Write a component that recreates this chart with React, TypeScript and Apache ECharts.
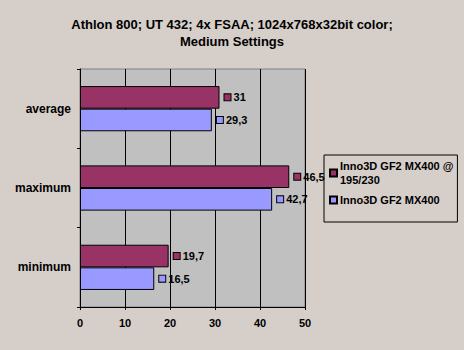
import React, { useEffect, useRef } from "react";
import * as echarts from "echarts";

const titleLines = ["Athlon 800; UT 432; 4x FSAA; 1024x768x32bit color;", "Medium Settings"];
const categories = ["minimum", "maximum", "average"];
const seriesNames = ["Inno3D GF2 MX400 @ 195/230", "Inno3D GF2 MX400"];
const oceValues = [19.7, 46.5, 31];
const stockValues = [16.5, 42.7, 29.3];
const xTicks = { min: 0, max: 50, interval: 10 };
const colors = ["#993366", "#9999FF"];

const FONT = "'Liberation Sans', Arial, sans-serif";

export default function App() {
  const ref = useRef<HTMLDivElement>(null);
  useEffect(() => {
    if (!ref.current) return;
    const chart = echarts.init(ref.current, null, { renderer: "svg" });
    const mkLabel = (color: string) => ({
      show: true,
      position: "right",
      distance: 5,
      formatter: (p: any) => `{s|}{v| ${String(p.value).replace(".", ",")}}`,
      rich: {
        s: { width: 6, height: 6, backgroundColor: color, borderColor: "#000", borderWidth: 1 },
        v: { fontFamily: FONT, fontWeight: "bold", fontSize: 11, color: "#000" },
      },
    });
    const vals = [oceValues, stockValues];
    chart.setOption({
      animation: false,
      backgroundColor: "#D6CEC9",
      textStyle: { fontFamily: FONT },
      title: {
        text: titleLines.join("\n"),
        left: "center",
        top: 11,
        textStyle: { fontFamily: FONT, fontSize: 13, fontWeight: "bold", color: "#000", lineHeight: 17 },
      },
      legend: {
        orient: "vertical",
        left: 324,
        top: 155,
        data: seriesNames,
        formatter: (n: string) => (n === seriesNames[0] ? "Inno3D GF2 MX400 @\n195/230" : n),
        itemWidth: 7,
        itemHeight: 7,
        itemGap: 6,
        padding: [4, 4, 15, 5],
        borderColor: "#000",
        borderWidth: 1,
        icon: "rect",
        textStyle: { fontFamily: FONT, fontSize: 11, fontWeight: "bold", color: "#000", lineHeight: 14, padding: [0, 0, 0, -2] },
      },
      grid: {
        left: 80,
        top: 69,
        width: 225,
        height: 238,
        show: true,
        backgroundColor: "#C0C0C0",
        borderColor: "#808080",
        borderWidth: 1,
      },
      xAxis: {
        type: "value",
        min: xTicks.min,
        max: xTicks.max,
        interval: xTicks.interval,
        axisLine: { show: true, lineStyle: { color: "#000", width: 1 } },
        axisTick: { show: true, length: 3, lineStyle: { color: "#000" } },
        splitLine: { show: true, lineStyle: { color: "#000", width: 1 } },
        axisLabel: { fontFamily: FONT, fontSize: 11, fontWeight: "bold", color: "#000", margin: 10 },
      },
      yAxis: {
        type: "category",
        data: categories,
        axisLine: { show: true, lineStyle: { color: "#000", width: 1 } },
        axisTick: { show: true, length: 3, lineStyle: { color: "#000" } },
        axisLabel: { fontFamily: FONT, fontSize: 12, fontWeight: "bold", color: "#000", margin: 9 },
      },
      series: seriesNames.map((name, i) => ({
        name,
        type: "bar",
        data: vals[i],
        barGap: "0%",
        barCategoryGap: "43%",
        itemStyle: { color: colors[i], borderColor: "#000", borderWidth: 1 },
        label: mkLabel(colors[i]),
      })),
    });
    return () => chart.dispose();
  }, []);
  return <div ref={ref} style={{ position: "fixed", left: 0, top: 0, width: 464, height: 350 }} />;
}
